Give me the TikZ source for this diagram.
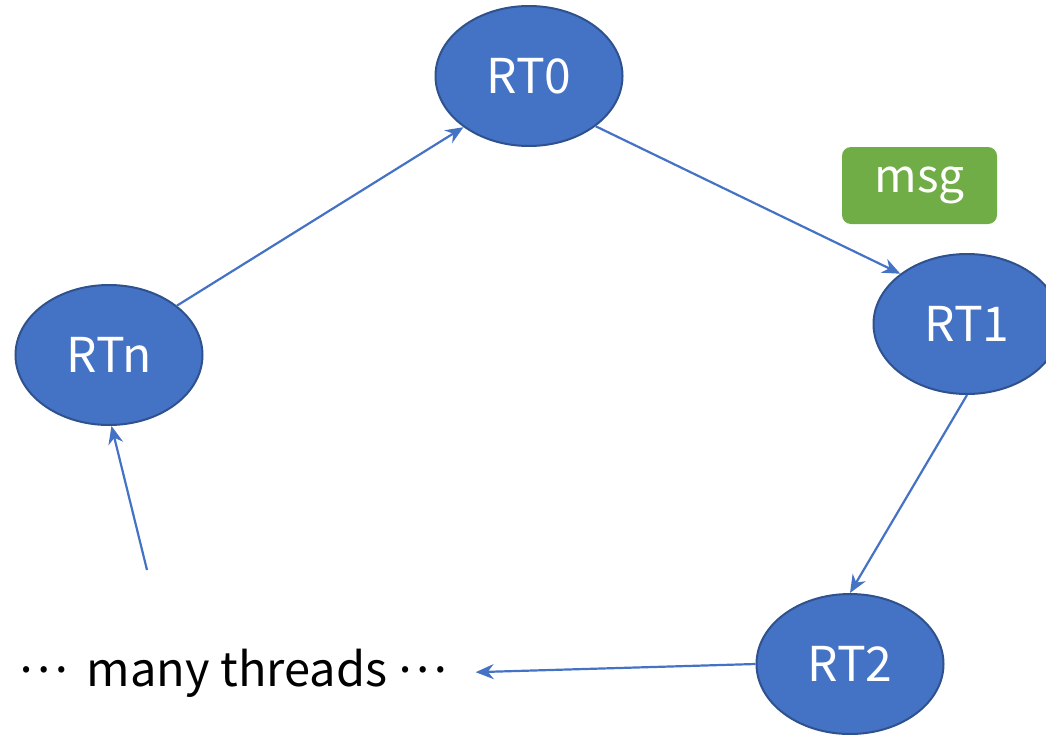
\documentclass[tikz,border=0pt]{standalone}
\usepackage{fontspec}
\setmainfont{Noto Sans CJK JP}
\usetikzlibrary{shapes.geometric,arrows.meta}
\definecolor{nodeblue}{HTML}{4472C4}
\definecolor{nodeedge}{HTML}{2F528F}
\definecolor{msggreen}{HTML}{70AD47}
\newcommand{\middots}{\raisebox{0.3em}{…}}
\tikzset{
  rt/.style={ellipse, draw=nodeedge, fill=nodeblue, line width=2pt, minimum width=187pt, minimum height=140pt, inner sep=0pt, text=white, font=\fontsize{48}{56}\selectfont},
  conn/.style={draw=nodeblue, line width=2.2pt, -{Stealth[length=18pt,width=15pt]}},
  msgbox/.style={rounded corners=9pt, fill=msggreen, minimum width=155pt, minimum height=77pt, inner sep=0pt, text=white, font=\fontsize{46}{54}\selectfont},
  lbl/.style={inner sep=0pt, font=\fontsize{47}{55}\selectfont}
}
\begin{document}
\begin{tikzpicture}[x=1pt,y=-1pt]
\useasboundingbox (0,0) rectangle (1046,734);
\node[rt] (rt0) at (529,76) {RT0};
\node[rt] (rt1) at (967,324) {RT1};
\node[rt] (rt2) at (850,664) {RT2};
\node[rt] (rtn) at (109,355) {RTn};
\node[msgbox] (msg) at (919.5,185.5) {msg};
\node[lbl] (txt) at (233,673) {\middots{} \,many threads \middots};
\coordinate (s) at (147,570);
\draw[conn] (rt0.-37) -- (rt1.143);
\draw[conn] (rt1.-90) -- (rt2.90);
\draw[conn, shorten >=28pt] (rt2.180) -- (txt.east);
\draw[conn] (s) -- (rtn.-88);
\draw[conn] (rtn.36) -- (rt0.-142);
\end{tikzpicture}
\end{document}
